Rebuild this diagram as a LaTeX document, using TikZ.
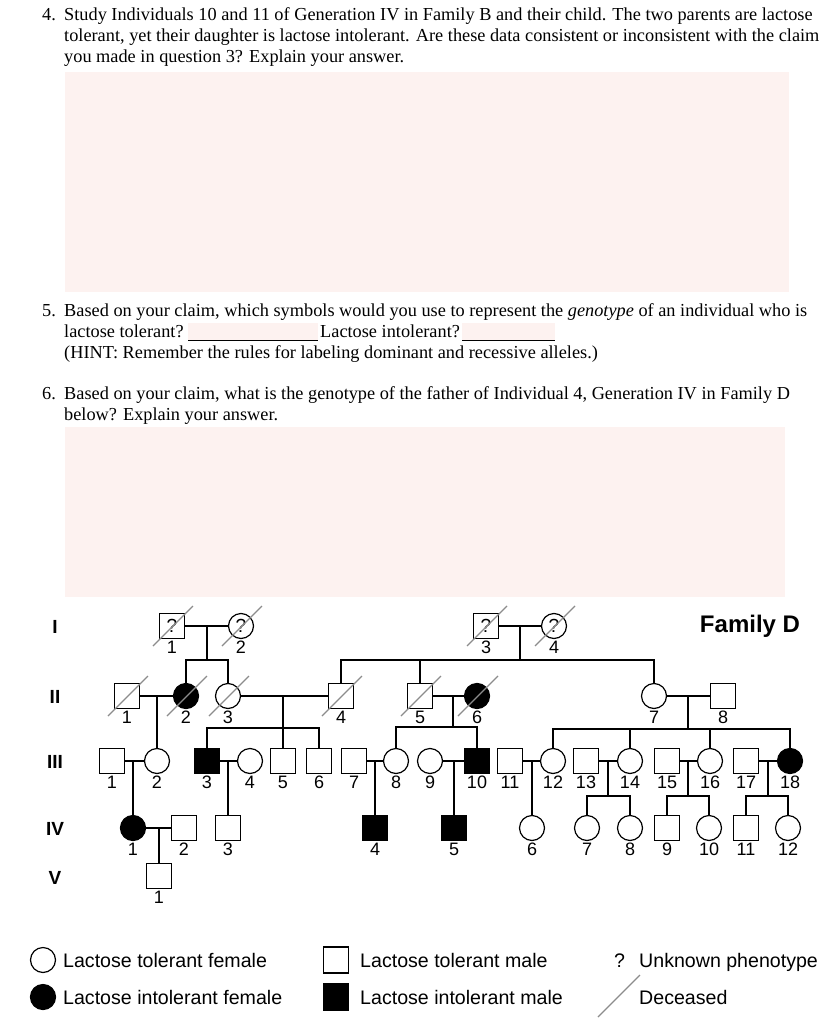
\documentclass[tikz,border=0pt]{standalone}
\usepackage{fontspec}
\setmainfont{Liberation Serif}
\newfontfamily\arial{Liberation Sans}
\usetikzlibrary{calc,positioning}
\definecolor{answerPink}{RGB}{253,242,240}
\definecolor{slashGray}{RGB}{140,140,140}

\begin{document}
\begin{tikzpicture}[x=1pt,y=-1pt,
  qtext/.style={anchor=base west,inner sep=0pt,font=\fontsize{18.3}{21}\selectfont},
  answer/.style={fill=answerPink},
  male/.style={rectangle,draw,fill=white,line width=1.2pt,minimum size=24.5pt,inner sep=0pt,font=\arial\fontsize{19}{19}\selectfont},
  female/.style={circle,draw,fill=white,line width=1.2pt,minimum size=25pt,inner sep=0pt,font=\arial\fontsize{19}{19}\selectfont},
  aff/.style={fill=black},
  rel/.style={line width=2pt},
  dead/.style={slashGray,line width=1.3pt},
  gen/.style={font=\arial\bfseries\fontsize{19}{19}\selectfont},
  every label/.style={font=\arial\fontsize{18}{18}\selectfont,inner sep=1pt},
  label distance=1pt,
  legtext/.style={anchor=base west,inner sep=0pt,font=\arial\fontsize{19.6}{20}\selectfont}
]
  \useasboundingbox (0,0) rectangle (827,1024);

  % questions
  \node[qtext] (q4num) at (42,21) {4.};
  \node[qtext] (q4a) at (64,21) {Study Individuals 10 and 11 of Generation IV in Family B and their child. The two parents are lactose};
  \node[qtext] (q4b) at (64,42) {tolerant, yet their daughter is lactose intolerant. Are these data consistent or inconsistent with the claim};
  \node[qtext] (q4c) at (64,63) {you made in question 3? Explain your answer.};
  \fill[answer] (65,72) rectangle (789,292);

  \node[qtext] (q5num) at (42,316) {5.};
  \node[qtext] (q5a) at (64,316) {Based on your claim, which symbols would you use to represent the {\itshape genotype} of an individual who is};
  \fill[answer] (188,323) rectangle (318,341);
  \fill[answer] (462,323) rectangle (555,341);
  \draw[line width=0.9pt] (188,340) -- (318,340) (462,340) -- (555,340);
  \node[qtext] (q5b) at (64,337) {lactose tolerant?};
  \node[qtext] (q5c) at (320,337) {Lactose intolerant?};
  \node[qtext] (q5d) at (64,358) {(HINT: Remember the rules for labeling dominant and recessive alleles.)};

  \node[qtext] (q6num) at (42,399) {6.};
  \node[qtext] (q6a) at (64,399) {Based on your claim, what is the genotype of the father of Individual 4, Generation IV in Family D};
  \node[qtext] (q6b) at (64,420) {below? Explain your answer.};
  \fill[answer] (65,427) rectangle (785,597);

  % generations
  \node[gen] (genI) at (55,627) {I};
  \node[gen] (genII) at (55,697) {II};
  \node[gen] (genIII) at (55,762) {III};
  \node[gen] (genIV) at (55,829) {IV};
  \node[gen] (genV) at (55,878) {V};
  \node[font=\arial\bfseries\fontsize{24}{24}\selectfont] (famD) at (750,626) {Family D};

  % generation I
  \node[male,label=below:1] (g1i1) at (172,626) {?};
  \node[female,label=below:2] (g1i2) at (241,626) {?};
  \node[male,label=below:3] (g1i3) at (486,626) {?};
  \node[female,label=below:4] (g1i4) at (554,626) {?};

  % generation II
  \node[male,label=below:1] (g2i1) at (127,696) {};
  \node[female,aff,label=below:2] (g2i2) at (186,696) {};
  \node[female,label=below:3] (g2i3) at (228,696) {};
  \node[male,label=below:4] (g2i4) at (341,696) {};
  \node[male,label=below:5] (g2i5) at (420,696) {};
  \node[female,aff,label=below:6] (g2i6) at (477,696) {};
  \node[female,label=below:7] (g2i7) at (654,696) {};
  \node[male,label=below:8] (g2i8) at (723,696) {};

  % generation III
  \node[male,label=below:1] (g3i1) at (112,761) {};
  \node[female,label=below:2] (g3i2) at (157,761) {};
  \node[male,aff,label=below:3] (g3i3) at (207,761) {};
  \node[female,label=below:4] (g3i4) at (250,761) {};
  \node[male,label=below:5] (g3i5) at (283,761) {};
  \node[male,label=below:6] (g3i6) at (319,761) {};
  \node[male,label=below:7] (g3i7) at (354,761) {};
  \node[female,label=below:8] (g3i8) at (396,761) {};
  \node[female,label=below:9] (g3i9) at (430,761) {};
  \node[male,aff,label=below:10] (g3i10) at (477,761) {};
  \node[male,label=below:11] (g3i11) at (510,761) {};
  \node[female,label=below:12] (g3i12) at (553,761) {};
  \node[male,label=below:13] (g3i13) at (586,761) {};
  \node[female,label=below:14] (g3i14) at (630,761) {};
  \node[male,label=below:15] (g3i15) at (667,761) {};
  \node[female,label=below:16] (g3i16) at (710,761) {};
  \node[male,label=below:17] (g3i17) at (746,761) {};
  \node[female,aff,label=below:18] (g3i18) at (790,761) {};

  % generation IV
  \node[female,aff,label=below:1] (g4i1) at (133,828) {};
  \node[male,label=below:2] (g4i2) at (184,828) {};
  \node[male,label=below:3] (g4i3) at (228,828) {};
  \node[male,aff,label=below:4] (g4i4) at (375,828) {};
  \node[male,aff,label=below:5] (g4i5) at (454,828) {};
  \node[female,label=below:6] (g4i6) at (532,828) {};
  \node[female,label=below:7] (g4i7) at (587,828) {};
  \node[female,label=below:8] (g4i8) at (630,828) {};
  \node[male,label=below:9] (g4i9) at (667,828) {};
  \node[female,label=below:10] (g4i10) at (709,828) {};
  \node[male,label=below:11] (g4i11) at (746,828) {};
  \node[female,label=below:12] (g4i12) at (788,828) {};

  % generation V
  \node[male,label=below:1] (g5i1) at (159,876) {};

  % couples and sibships
  \coordinate (m11) at (207,626); \coordinate (s11) at (207,660);
  \coordinate (m12) at (520,626); \coordinate (s12) at (520,660);
  \coordinate (m21) at (157,696);
  \coordinate (m22) at (283,696); \coordinate (s22) at (283,728);
  \coordinate (m23) at (453,696); \coordinate (s23) at (453,727);
  \coordinate (m24) at (688,696); \coordinate (s24) at (688,729);
  \coordinate (m31) at (133,761);
  \coordinate (m32) at (228,761);
  \coordinate (m33) at (375,761);
  \coordinate (m34) at (454,761);
  \coordinate (m35) at (532,761);
  \coordinate (m36) at (608,761); \coordinate (s36) at (608,796);
  \coordinate (m37) at (688,761); \coordinate (s37) at (688,796);
  \coordinate (m38) at (768,761); \coordinate (s38) at (768,796);
  \coordinate (m41) at (159,828);

  \draw[rel] (g1i1) -- (g1i2);
  \draw[rel] (m11) -- (s11);
  \draw[rel] (g2i2) |- (s11) -| (g2i3);
  \draw[rel] (g1i3) -- (g1i4);
  \draw[rel] (m12) -- (s12);
  \draw[rel] (g2i4) |- (s12) -| (g2i7);
  \draw[rel] (s12) -| (g2i5);

  \draw[rel] (g2i1) -- (g2i2);
  \draw[rel] (m21) -- (g3i2);
  \draw[rel] (g2i3) -- (g2i4);
  \draw[rel] (m22) -- (s22);
  \draw[rel] (g3i3) |- (s22) -| (g3i6);
  \draw[rel] (s22) -- (g3i5);
  \draw[rel] (g2i5) -- (g2i6);
  \draw[rel] (m23) -- (s23);
  \draw[rel] (g3i8) |- (s23) -| (g3i10);
  \draw[rel] (g2i7) -- (g2i8);
  \draw[rel] (m24) -- (s24);
  \draw[rel] (g3i12) |- (s24) -| (g3i18);
  \draw[rel] (s24) -| (g3i14);
  \draw[rel] (s24) -| (g3i16);

  \draw[rel] (g3i1) -- (g3i2);
  \draw[rel] (m31) -- (g4i1);
  \draw[rel] (g3i3) -- (g3i4);
  \draw[rel] (m32) -- (g4i3);
  \draw[rel] (g3i7) -- (g3i8);
  \draw[rel] (m33) -- (g4i4);
  \draw[rel] (g3i9) -- (g3i10);
  \draw[rel] (m34) -- (g4i5);
  \draw[rel] (g3i11) -- (g3i12);
  \draw[rel] (m35) -- (g4i6);
  \draw[rel] (g3i13) -- (g3i14);
  \draw[rel] (m36) -- (s36);
  \draw[rel] (g4i7) |- (s36) -| (g4i8);
  \draw[rel] (g3i15) -- (g3i16);
  \draw[rel] (m37) -- (s37);
  \draw[rel] (g4i9) |- (s37) -| (g4i10);
  \draw[rel] (g3i17) -- (g3i18);
  \draw[rel] (m38) -- (s38);
  \draw[rel] (g4i11) |- (s38) -| (g4i12);

  \draw[rel] (g4i1) -- (g4i2);
  \draw[rel] (m41) -- (g5i1);

  % deceased
  \foreach \n in {g1i1,g1i2,g1i3,g1i4,g2i1,g2i2,g2i3,g2i4,g2i5,g2i6}
    \draw[dead] ([shift={(-19,20)}]\n.center) -- ([shift={(21,-20)}]\n.center);

  % key
  \node[female] (keyf) at (43,960) {};
  \node[legtext] (keyftxt) at (63,967) {Lactose tolerant female};
  \node[female,aff] (keyfa) at (43,997) {};
  \node[legtext] (keyfatxt) at (63,1004) {Lactose intolerant female};
  \node[male,minimum height=26pt] (keym) at (336,960) {};
  \node[legtext] (keymtxt) at (360,967) {Lactose tolerant male};
  \node[male,aff,minimum height=26pt] (keyma) at (336,997) {};
  \node[legtext] (keymatxt) at (360,1004) {Lactose intolerant male};
  \node[legtext] (keyq) at (614,967) {?};
  \node[legtext] (keyqtxt) at (639,967) {Unknown phenotype};
  \coordinate (keyd1) at (598,1017);
  \coordinate (keyd2) at (640,975);
  \draw[dead] (keyd1) -- (keyd2);
  \node[legtext] (keydtxt) at (639,1004) {Deceased};
\end{tikzpicture}
\end{document}
